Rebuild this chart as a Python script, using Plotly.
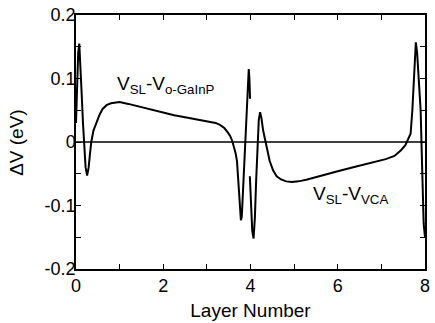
import plotly.graph_objects as go

# Curve 1: V_SL - V_o-GaInP
x1 = [0.0, 0.02, 0.05, 0.075, 0.10, 0.13, 0.16, 0.19, 0.22, 0.255, 0.29, 0.32, 0.35, 0.40,
      0.47, 0.54, 0.61, 0.70, 0.80, 0.90, 1.0, 1.2, 1.5, 1.75, 2.0, 2.25, 2.5, 2.75, 3.0,
      3.2, 3.3, 3.4, 3.47, 3.53, 3.58, 3.62, 3.66, 3.69, 3.72, 3.75, 3.78, 3.80, 3.83,
      3.87, 3.91, 3.94, 3.96, 3.975, 3.99]
y1 = [0.03, 0.09, 0.14, 0.155, 0.125, 0.076, 0.03, -0.01, -0.04, -0.053, -0.04, -0.019, 0.0,
      0.018, 0.032, 0.043, 0.052, 0.058, 0.061, 0.062, 0.063, 0.060, 0.055, 0.050, 0.046,
      0.042, 0.039, 0.036, 0.033, 0.030, 0.027, 0.022, 0.016, 0.010, 0.002, -0.008, -0.018,
      -0.03, -0.06, -0.10, -0.123, -0.118, -0.075, -0.02, 0.04, 0.09, 0.115, 0.10, 0.068]

# Curve 2: V_SL - V_VCA
x2 = [3.985, 4.01, 4.04, 4.07, 4.10, 4.13, 4.16, 4.19, 4.22, 4.25, 4.29, 4.33, 4.38, 4.44,
      4.52, 4.60, 4.70, 4.82, 4.95, 5.1, 5.3, 5.6, 6.0, 6.4, 6.8, 7.1, 7.3, 7.45, 7.55,
      7.62, 7.67, 7.71, 7.75, 7.79, 7.82, 7.86, 7.90, 7.93, 7.97, 8.0]
y2 = [-0.054, -0.10, -0.14, -0.152, -0.12, -0.06, -0.005, 0.035, 0.047, 0.038, 0.018, 0.005,
      -0.012, -0.03, -0.045, -0.054, -0.059, -0.062, -0.063, -0.062, -0.059, -0.053, -0.046,
      -0.039, -0.032, -0.027, -0.022, -0.013, -0.005, 0.005, 0.013, 0.05, 0.11, 0.157, 0.14,
      0.10, 0.05, -0.029, -0.129, -0.15]

x_ticks = [0, 1, 2, 3, 4, 5, 6, 7, 8]
x_labels = ["0", "", "2", "", "4", "", "6", "", "8"]
y_ticks = [-0.2, -0.15, -0.1, -0.05, 0, 0.05, 0.1, 0.15, 0.2]
y_labels = ["-0.2", "", "-0.1", "", "0", "", "0.1", "", "0.2"]

FONT = "Liberation Sans, Arial, sans-serif"

W, H = 435, 323
L, R, T, B = 76, 5, 14, 54
PW = W - L - R

fig = go.Figure()
fig.add_trace(go.Scatter(x=[0, 8], y=[0, 0], mode="lines",
                         line=dict(color="black", width=1.5), hoverinfo="skip"))
fig.add_trace(go.Scatter(x=x1, y=y1, mode="lines", line=dict(color="black", width=2)))
fig.add_trace(go.Scatter(x=x2, y=y2, mode="lines", line=dict(color="black", width=2)))

fig.add_annotation(x=2.07, y=0.089, xref="x", yref="y", showarrow=False,
                   text="V<sub>SL</sub>-V<sub>o-GaInP</sub>",
                   font=dict(family=FONT, size=19, color="black"),
                   xanchor="center", yanchor="middle")
fig.add_annotation(x=6.29, y=-0.083, xref="x", yref="y", showarrow=False,
                   text="V<sub>SL</sub>-V<sub>VCA</sub>",
                   font=dict(family=FONT, size=19, color="black"),
                   xanchor="center", yanchor="middle")
# y-axis title
fig.add_annotation(x=-61 / PW, y=0.5, xref="paper", yref="paper", showarrow=False,
                   text="ΔV (eV)", textangle=-90,
                   font=dict(family=FONT, size=19, color="black"),
                   xanchor="center", yanchor="middle")

fig.update_layout(
    width=W, height=H,
    margin=dict(l=L, r=R, t=T, b=B),
    paper_bgcolor="white", plot_bgcolor="white",
    showlegend=False,
    font=dict(family=FONT, size=18, color="black"),
)
fig.update_xaxes(range=[0, 8], tickvals=x_ticks, ticktext=x_labels,
                 ticks="inside", ticklen=5, tickwidth=1.3, tickcolor="black",
                 showline=True, linecolor="black", linewidth=1.5, mirror="allticks",
                 showgrid=False, zeroline=False, ticklabeloverflow="allow",
                 title=dict(text="Layer Number", font=dict(size=19), standoff=8))
fig.update_yaxes(range=[-0.2, 0.2], tickvals=y_ticks, ticktext=y_labels,
                 ticks="inside", ticklen=5, tickwidth=1.3, tickcolor="black",
                 showline=True, linecolor="black", linewidth=1.5, mirror="allticks",
                 showgrid=False, zeroline=False, ticklabelstandoff=-5)

fig.write_html("out.html", config={"displayModeBar": False},
               post_script="document.body.style.margin='0';document.body.style.overflow='hidden';")
